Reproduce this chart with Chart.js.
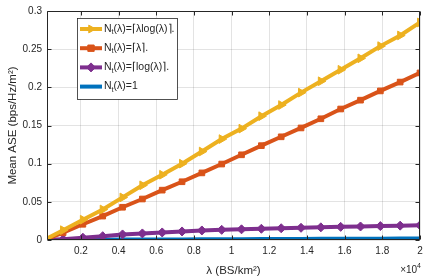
<!DOCTYPE html>
<html><head><meta charset="utf-8">
<script src="https://cdn.jsdelivr.net/npm/chart.js@4"></script>
<style>html,body{margin:0;padding:0;background:#fff}</style>
</head><body>
<canvas id="c" width="429" height="278"></canvas>
<script>
// ---- data ----
const lambdaValues = [200, 1053, 2105, 3158, 4211, 5263, 6316, 7368, 8421, 9474, 10526, 11579, 12632, 13684, 14737, 15789, 16842, 17895, 18947, 20000];
const aseLambdaLog = [0.002, 0.0129, 0.0266, 0.0400, 0.0558, 0.0717, 0.0855, 0.1000, 0.1159, 0.1322, 0.1459, 0.1622, 0.1768, 0.1931, 0.2080, 0.2230, 0.2380, 0.2540, 0.2680, 0.2850];
const aseLambda    = [0.0015, 0.0095, 0.0206, 0.0313, 0.0429, 0.0537, 0.0653, 0.0763, 0.0879, 0.0995, 0.1116, 0.1236, 0.1352, 0.1468, 0.1588, 0.1716, 0.1832, 0.1953, 0.2069, 0.2189];
const aseLog       = [0.0000, 0.0009, 0.0030, 0.0050, 0.0073, 0.0086, 0.0099, 0.0112, 0.0125, 0.0133, 0.0140, 0.0147, 0.0154, 0.0160, 0.0166, 0.0172, 0.0177, 0.0182, 0.0188, 0.0193];
const aseOne       = [0.0001, 0.0002, 0.0003, 0.0004, 0.0005, 0.0006, 0.0007, 0.0008, 0.0009, 0.0010, 0.0011, 0.0012, 0.0013, 0.0014, 0.0015, 0.0016, 0.0017, 0.0018, 0.0019, 0.0020];
const seriesLabels = ["N_{t}(λ)=⌈λlog(λ)⌉.", "N_{t}(λ)=⌈λ⌉.", "N_{t}(λ)=⌈log(λ)⌉.", "N_{t}(λ)=1"];
const xTickValues = [2000, 4000, 6000, 8000, 10000, 12000, 14000, 16000, 18000, 20000];
const yTickValues = [0, 0.05, 0.1, 0.15, 0.2, 0.25, 0.3];
const xExponentLabel = ["×10", "4"];
const xTitle = "λ (BS/km²)";
const yTitle = "Mean ASE (bps/Hz/m²)";

const FONT = "'Liberation Sans', Arial, Helvetica, sans-serif";
const AXC = '#262626';

function mk(label, vals, color, style, rot, r, lw) {
  return {
    label, data: lambdaValues.map((x, i) => ({x, y: vals[i]})),
    borderColor: color, backgroundColor: color,
    pointBackgroundColor: color, pointBorderColor: color,
    borderWidth: lw, pointStyle: style, pointRotation: rot,
    pointRadius: ctx => (style === false || ctx.dataIndex === 0) ? 0 : r,
    pointBorderWidth: 1, tension: 0
  };
}

function drawRich(ctx, text, x, y, size) {
  const parts = text.split(/(_\{[^}]*\})/);
  let cx = x;
  for (const p of parts) {
    if (!p) continue;
    if (p.startsWith('_{')) {
      const s = p.slice(2, -1);
      ctx.font = (size * 0.7) + 'px ' + FONT;
      ctx.fillText(s, cx, y + size * 0.3);
      cx += ctx.measureText(s).width;
    } else {
      ctx.font = size + 'px ' + FONT;
      ctx.fillText(p, cx, y);
      cx += ctx.measureText(p).width;
    }
  }
  return cx - x;
}
function measureRich(ctx, text, size) {
  const parts = text.split(/(_\{[^}]*\})/);
  let w = 0;
  for (const p of parts) {
    if (!p) continue;
    if (p.startsWith('_{')) { ctx.font = (size * 0.7) + 'px ' + FONT; w += ctx.measureText(p.slice(2, -1)).width; }
    else { ctx.font = size + 'px ' + FONT; w += ctx.measureText(p).width; }
  }
  return w;
}

const decor = {
  id: 'decor',
  afterDatasetsDraw(chart) {
    const {ctx, chartArea: a, scales: {x, y}} = chart;
    ctx.save();
    ctx.strokeStyle = AXC; ctx.lineWidth = 1;
    const L = Math.round(a.left) + 0.5, R = Math.round(a.right) - 0.5, T = Math.round(a.top) + 0.5, B = Math.round(a.bottom) - 0.5;
    ctx.beginPath();
    ctx.moveTo(L, T); ctx.lineTo(R, T); ctx.lineTo(R, B); ctx.lineTo(L, B); ctx.closePath();
    ctx.stroke();
    ctx.beginPath();
    for (const v of xTickValues) {
      const px = Math.round(x.getPixelForValue(v)) + 0.5;
      ctx.moveTo(px, B); ctx.lineTo(px, B - 4);
      ctx.moveTo(px, T); ctx.lineTo(px, T + 4);
    }
    for (const v of yTickValues) {
      const py = Math.round(y.getPixelForValue(v)) + 0.5;
      ctx.moveTo(L, py); ctx.lineTo(L + 4, py);
      ctx.moveTo(R, py); ctx.lineTo(R - 4, py);
    }
    ctx.stroke();

    // legend
    const size = 10.5;
    const ds = chart.data.datasets;
    let tw = 0;
    for (const d of ds) tw = Math.max(tw, measureRich(ctx, d.label, size));
    const lx = Math.round(a.left) + 30, ly = Math.round(a.top) + 7;
    const rowH = 19.2;
    const w = Math.round(27 + tw + 3), h = 81;
    ctx.fillStyle = '#fff';
    ctx.fillRect(lx, ly, w, h);
    ctx.strokeStyle = AXC; ctx.lineWidth = 0.8;
    ctx.strokeRect(lx + 0.5, ly + 0.5, w, h);
    ds.forEach((d, i) => {
      const cy = ly + 11 + i * rowH;
      ctx.strokeStyle = d.borderColor; ctx.lineWidth = d.borderWidth;
      ctx.beginPath(); ctx.moveTo(lx + 3, cy); ctx.lineTo(lx + 25, cy); ctx.stroke();
      if (d.pointStyle) {
        ctx.fillStyle = d.pointBackgroundColor; ctx.strokeStyle = d.pointBorderColor; ctx.lineWidth = 1;
        Chart.helpers.drawPoint(ctx, {pointStyle: d.pointStyle, rotation: d.pointRotation, radius: 4.5, borderWidth: 1}, lx + 14, cy);
      }
      ctx.fillStyle = AXC; ctx.textBaseline = 'middle'; ctx.textAlign = 'left';
      drawRich(ctx, d.label, lx + 27, cy, size);
    });

    // x exponent
    ctx.fillStyle = AXC; ctx.textBaseline = 'middle';
    ctx.font = '7px ' + FONT;
    const supW = ctx.measureText(xExponentLabel[1]).width;
    ctx.font = '10px ' + FONT;
    const baseW = ctx.measureText(xExponentLabel[0]).width;
    const ex = Math.round(a.right) + 1 - supW - baseW;
    ctx.textAlign = 'left';
    ctx.fillText(xExponentLabel[0], ex, 270);
    ctx.font = '7px ' + FONT;
    ctx.fillText(xExponentLabel[1], ex + baseW, 266);
    ctx.restore();
  }
};

const gridColor = 'rgba(38,38,38,0.13)';
new Chart(document.getElementById('c'), {
  type: 'line',
  data: {
    datasets: [
      mk(seriesLabels[0], aseLambdaLog, '#EDB120', 'triangle', 90, 5, 4),
      mk(seriesLabels[1], aseLambda, '#D95319', 'rect', 0, 4, 4),
      mk(seriesLabels[2], aseLog, '#7E2F8E', 'rectRot', 0, 4.5, 4),
      mk(seriesLabels[3], aseOne, '#0072BD', false, 0, 0, 4)
    ]
  },
  options: {
    responsive: false, animation: false, devicePixelRatio: 1,
    layout: {padding: {top: 6, right: 9, left: 0, bottom: 0}},
    plugins: {legend: {display: false}, tooltip: {enabled: false}},
    scales: {
      x: {
        type: 'linear', min: 200, max: 20000,
        afterBuildTicks: s => { s.ticks = xTickValues.map(v => ({value: v})); },
        afterFit: s => { s.height = 38; },
        ticks: {callback: v => String(parseFloat((v / 10000).toFixed(2))), font: {size: 10, family: FONT}, color: AXC, padding: 5, maxRotation: 0, autoSkip: false},
        grid: {color: gridColor, drawTicks: false},
        border: {display: false},
        title: {display: true, text: xTitle, font: {size: 11.5, family: FONT}, color: AXC, padding: {top: 0, bottom: 0}}
      },
      y: {
        type: 'linear', min: 0, max: 0.3,
        afterBuildTicks: s => { s.ticks = yTickValues.map(v => ({value: v})); },
        afterFit: s => { s.width = 47; },
        ticks: {callback: v => String(parseFloat(v.toFixed(2))), font: {size: 10, family: FONT}, color: AXC, padding: 5, autoSkip: false},
        grid: {color: gridColor, drawTicks: false},
        border: {display: false},
        title: {display: true, text: yTitle, font: {size: 11.5, family: FONT}, color: AXC, padding: {top: 6, bottom: 0}}
      }
    }
  },
  plugins: [decor]
});
</script>
</body></html>
